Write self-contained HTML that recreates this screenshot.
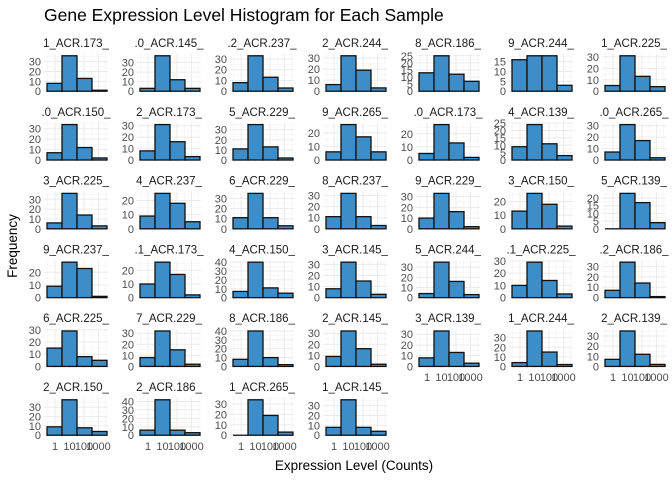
<!DOCTYPE html>
<html><head><meta charset="utf-8"><style>
body{margin:0;background:#fff;}
svg{display:block;font-family:"Liberation Sans",sans-serif;}
</style></head><body>
<svg id="s" width="672" height="480" xmlns="http://www.w3.org/2000/svg">
<text x="44" y="21" font-size="17.5" fill="#000">Gene Expression Level Histogram for Each Sample</text>
<text x="354" y="470" font-size="13.5" text-anchor="middle" fill="#000">Expression Level (Counts)</text>
<text transform="translate(17,246) rotate(-90)" font-size="13.5" text-anchor="middle" fill="#000">Frequency</text>
</svg>
<script>
var names=["1_ACR.173_",".0_ACR.145_",".2_ACR.237_","2_ACR.244_","8_ACR.186_","9_ACR.244_","1_ACR.225_",
".0_ACR.150_","2_ACR.173_","5_ACR.229_","9_ACR.265_",".0_ACR.173_","4_ACR.139_",".0_ACR.265_",
"3_ACR.225_","4_ACR.237_","6_ACR.229_","8_ACR.237_","9_ACR.229_","3_ACR.150_","5_ACR.139_",
"9_ACR.237_",".1_ACR.173_","4_ACR.150_","3_ACR.145_","5_ACR.244_",".1_ACR.225_",".2_ACR.186_",
"6_ACR.225_","7_ACR.229_","8_ACR.186_","2_ACR.145_","3_ACR.139_","1_ACR.244_","2_ACR.139_",
"2_ACR.150_","2_ACR.186_","1_ACR.265_","1_ACR.145_"];
var d=[[8,36,13,1],[3,37,12,3],[8,33,13,3],[6,32,19,3],[13,25,12,7],[16,18,18,3],[5,31,13,4],
[7,34,12,2],[8,31,16,3],[11,35,13,2],[6,26,17,6],[5,27,13,2],[9,24,11,3],[7,31,17,2],
[6,36,14,3],[9,25,18,5],[11,35,11,3],[11,32,11,3],[10,33,16,2],[13,26,18,2],[0,23,17,4],
[9,28,23,1],[10,26,17,2],[7,40,11,5],[8,32,15,3],[4,35,16,3],[10,29,14,3],[7,34,14,1],
[15,29,8,5],[8,32,15,2],[8,40,10,2],[9,32,16,2],[8,33,13,3],[4,37,15,2],[7,35,12,2],
[9,38,8,4],[6,42,6,3],[0,34,19,3],[8,36,8,4]];
var step5={4:1,5:1,12:1,20:1};
var s=document.getElementById('s'),h='';
for(var i=0;i<39;i++){
 var c=i%7,r=Math.floor(i/7);
 var X=44+c*93,Y=54+r*68.8,W=64,H=39;
 var m=Math.max.apply(null,d[i]);
 var lo=-0.05*m,hi=m*1.05,sc=H/(hi-lo);
 function yy(v){return Y+H-(v-lo)*sc;}
 var tx=[11,25.5,40,54.5];
 for(var k=0;k<4;k++){h+='<line x1="'+(X+tx[k])+'" x2="'+(X+tx[k])+'" y1="'+Y+'" y2="'+(Y+H)+'" stroke="#ebebeb" stroke-width="1"/>';
  h+='<line x1="'+(X+tx[k]-7.25)+'" x2="'+(X+tx[k]-7.25)+'" y1="'+Y+'" y2="'+(Y+H)+'" stroke="#f3f3f3" stroke-width="0.6"/>';}
 h+='<line x1="'+(X+61.75)+'" x2="'+(X+61.75)+'" y1="'+Y+'" y2="'+(Y+H)+'" stroke="#f3f3f3" stroke-width="0.6"/>';
 var st=step5[i]?5:10;
 for(var v=0;v<=hi;v+=st){var y=yy(v);
  h+='<line x1="'+X+'" x2="'+(X+W)+'" y1="'+y+'" y2="'+y+'" stroke="#ebebeb" stroke-width="1"/>';
  if(v+st/2<=hi){var y2=yy(v+st/2);h+='<line x1="'+X+'" x2="'+(X+W)+'" y1="'+y2+'" y2="'+y2+'" stroke="#f3f3f3" stroke-width="0.6"/>';}
  h+='<text x="'+(X-3)+'" y="'+(y+4)+'" font-size="11" fill="#4d4d4d" text-anchor="end">'+v+'</text>';}
 for(var b=0;b<4;b++){var v=d[i][b],x=X+3+15*b,y0=yy(0),y1=yy(v);
  if(v==0)h+='<line x1="'+x+'" x2="'+(x+15)+'" y1="'+y0+'" y2="'+y0+'" stroke="#111" stroke-width="1.3"/>';
  else h+='<rect x="'+x+'" y="'+y1+'" width="15" height="'+(y0-y1)+'" fill="#3c8dc8" stroke="#111" stroke-width="1.3"/>';}
 h+='<text x="'+(X+W/2)+'" y="'+(Y-7)+'" font-size="11.5" fill="#1a1a1a" text-anchor="middle">'+names[i]+'</text>';
 if(i>=32||r==5){var lb=["1","10","100","1000"];
  for(var k=0;k<4;k++)h+='<text x="'+(X+tx[k])+'" y="'+(Y+H+13)+'" font-size="11" fill="#4d4d4d" text-anchor="middle">'+lb[k]+'</text>';}
}
s.insertAdjacentHTML('beforeend',h);
</script>
</body></html>
